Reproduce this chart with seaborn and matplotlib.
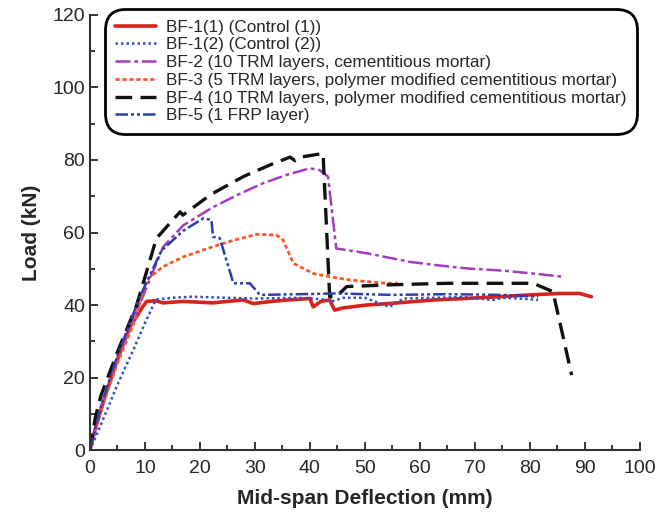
import seaborn as sns
import matplotlib.pyplot as plt
from matplotlib.ticker import MultipleLocator

# data (deflection mm, load kN)
bf1_1_x = [0, 1, 3, 5, 7.3, 9.2, 10.3, 12, 13.3, 17, 22.4, 25, 27.9, 29.7, 33, 36, 40, 40.6, 42, 43.6, 44.5, 46, 50.3, 56, 62.4, 68, 74.5, 80, 85.5, 89, 91.2]
bf1_1_y = [0, 6, 16, 25, 34, 38.6, 41.0, 41.2, 40.6, 41.0, 40.6, 41.0, 41.4, 40.4, 41.0, 41.4, 41.8, 39.5, 41.0, 41.4, 38.6, 39.2, 40.0, 40.6, 41.4, 41.8, 42.3, 42.8, 43.2, 43.2, 42.3]

bf1_2_x = [0, 2, 5, 8, 10, 12, 15, 18.5, 25, 30, 38, 42, 44, 46, 50, 54.5, 57, 62, 68, 73.3, 75, 78, 81.5]
bf1_2_y = [0, 7, 18, 28, 35, 41.5, 42.0, 42.3, 42.0, 41.8, 42.0, 41.6, 41.0, 42.0, 42.0, 39.5, 41.8, 42.0, 42.2, 41.4, 42.0, 41.8, 41.4]

bf2_x = [0, 2, 5, 9, 13.3, 17, 22.4, 27, 31.5, 36, 40, 41.8, 43.3, 44.8, 50.3, 58.2, 63, 68.5, 75, 80.6, 86]
bf2_y = [0, 12, 25, 40, 56, 62, 67, 70.5, 73.6, 76, 77.7, 77.2, 75.4, 55.6, 54.3, 51.9, 51.0, 50.1, 49.5, 48.7, 47.8]

bf3_x = [0, 2, 5, 8, 10.3, 13.3, 17, 22.4, 26, 30.3, 33.9, 35.1, 37, 40.6, 43.6, 47.3, 53.9, 56]
bf3_y = [0, 11, 24, 35, 46.9, 50.6, 53.3, 56.1, 57.8, 59.5, 59.3, 58.0, 51.5, 48.7, 47.8, 46.9, 46.0, 46.0]

bf4_x = [0, 1, 2, 5, 8.5, 12.1, 16.4, 16.9, 22, 28, 33, 36.4, 37.3, 38.3, 42.4, 43.6, 44.8, 46.7, 55, 65, 75, 80.6, 84.2, 87.6]
bf4_y = [0, 9, 15, 27, 40, 58.4, 65.7, 64.8, 70.5, 75.5, 78.8, 80.8, 79.8, 80.8, 81.8, 42.3, 42.3, 45.1, 45.6, 46.0, 46.0, 46.0, 43.7, 20.7]

bf5_x = [0, 2, 5, 9, 13, 17, 20.6, 22.1, 22.4, 23.6, 26.1, 29.1, 30.9, 38.2, 45, 55, 65, 75, 81.5]
bf5_y = [0, 12, 26, 42, 55, 60.5, 63.9, 63.5, 58.8, 58.5, 46.0, 46.0, 42.8, 43.0, 43.2, 42.8, 43.0, 42.8, 42.3]

labels = [
    "BF-1(1) (Control (1))",
    "BF-1(2) (Control (2))",
    "BF-2 (10 TRM layers, cementitious mortar)",
    "BF-3 (5 TRM layers, polymer modified cementitious mortar)",
    "BF-4 (10 TRM layers, polymer modified cementitious mortar)",
    "BF-5 (1 FRP layer)",
]

sns.set_style("white")
plt.rcParams["font.family"] = ["Liberation Sans", "DejaVu Sans"]

fig = plt.figure(figsize=(6.61, 5.15), dpi=100)
ax = fig.add_axes([0.136, 0.126, 0.832, 0.845])

series = [
    (bf1_1_x, bf1_1_y, "#d8231c", "-", 2.6),
    (bf1_2_x, bf1_2_y, "#2f4fc4", (0, (1, 1.2)), 1.8),
    (bf2_x, bf2_y, "#a23cc0", (0, (6, 1.5, 1.5, 1.5)), 1.8),
    (bf3_x, bf3_y, "#ff5526", (0, (1.5, 1)), 2.0),
    (bf4_x, bf4_y, "#111111", (0, (5, 2.5)), 2.4),
    (bf5_x, bf5_y, "#2a3fae", (0, (5, 1.2, 1.2, 1.2, 1.2, 1.2)), 1.8),
]

for (xs, ys, c, ls, lw), lab in zip(series, labels):
    sns.lineplot(x=xs, y=ys, ax=ax, sort=False, estimator=None,
                 color=c, linestyle=ls, linewidth=lw, label=lab)

ax.set_xlim(0, 100)
ax.set_ylim(0, 120)
ax.xaxis.set_major_locator(MultipleLocator(10))
ax.xaxis.set_minor_locator(MultipleLocator(5))
ax.yaxis.set_major_locator(MultipleLocator(20))
ax.yaxis.set_minor_locator(MultipleLocator(10))
ax.tick_params(which="both", direction="in", left=True, bottom=True, labelsize=14, width=1.3)
ax.tick_params(which="major", length=6)
ax.tick_params(which="minor", length=3.5)
ax.tick_params(axis="x", pad=7)

for s in ["top", "right"]:
    ax.spines[s].set_visible(False)
for s in ["left", "bottom"]:
    ax.spines[s].set_linewidth(1.5)
    ax.spines[s].set_color("#333333")

ax.set_xlabel("Mid-span Deflection (mm)", fontsize=15, fontweight="bold", labelpad=9)
ax.set_ylabel("Load (kN)", fontsize=15, fontweight="bold", labelpad=8)

leg = ax.legend(loc="upper left", bbox_to_anchor=(0.033, 1.005), fontsize=12.3,
                frameon=True, fancybox=True, edgecolor="black", framealpha=1,
                handlelength=2.4, handletextpad=0.6, labelspacing=0.16,
                borderpad=0.4, borderaxespad=0)
leg.get_frame().set_linewidth(2)
leg.get_frame().set_boxstyle("round,pad=0.2,rounding_size=1.2")

fig.savefig("out.png", dpi=100)
